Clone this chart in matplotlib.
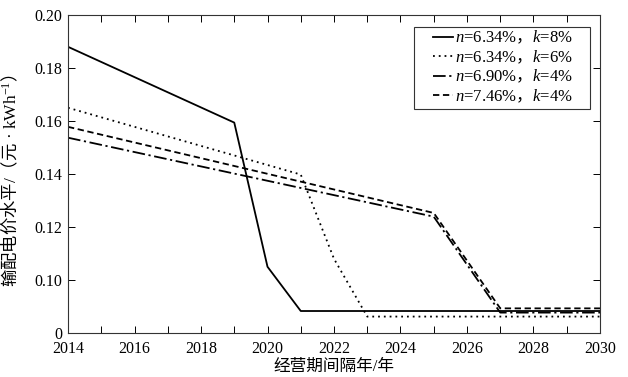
import matplotlib
matplotlib.use("Agg")
import matplotlib.pyplot as plt
from matplotlib.patches import Rectangle
from matplotlib.ticker import MultipleLocator

plt.rcParams.update({
	"font.family": ["Liberation Serif", "Noto Sans CJK SC"],
	"mathtext.fontset": "custom",
	"mathtext.rm": "Liberation Serif",
	"mathtext.it": "Liberation Serif:italic",
	"mathtext.sf": "Noto Sans CJK SC",
	"xtick.direction": "in",
	"ytick.direction": "in",
})

# data
years_a = [2014, 2019, 2020, 2021, 2030]
price_a = [0.1880, 0.1594, 0.1050, 0.0883, 0.0883]

years_b = [2014, 2021, 2022, 2023, 2030]
price_b = [0.1650, 0.1398, 0.1080, 0.0862, 0.0862]

years_c = [2014, 2025, 2027, 2030]
price_c = [0.1537, 0.1239, 0.0877, 0.0877]

years_d = [2014, 2025, 2027, 2030]
price_d = [0.1578, 0.1253, 0.0893, 0.0893]

# full-width comma drawn through the CJK (sf) math font
labels = [
	r"$n$=6.34%$\mathsf{，}$$k$=8%",
	r"$n$=6.34%$\mathsf{，}$$k$=6%",
	r"$n$=6.90%$\mathsf{，}$$k$=4%",
	r"$n$=7.46%$\mathsf{，}$$k$=4%",
]

yticks = [0.08, 0.10, 0.12, 0.14, 0.16, 0.18, 0.20]
ytick_labels = ["0", "0.10", "0.12", "0.14", "0.16", "0.18", "0.20"]

fig = plt.figure(figsize=(6.28, 3.77), dpi=100)
ax = fig.add_axes([0.1083, 0.1167, 0.8471, 0.8435])

lw = 1.3
ax.plot(years_a, price_a, color="k", lw=lw, ls="-", label=labels[0])
ax.plot(years_b, price_b, color="k", lw=lw, ls=(0, (1, 2.2)), label=labels[1])
ax.plot(years_c, price_c, color="k", lw=lw, ls=(0, (7, 2, 1.2, 2)), label=labels[2])
ax.plot(years_d, price_d, color="k", lw=lw, ls=(0, (3.5, 2)), label=labels[3])

ax.set_xlim(2014, 2030)
ax.set_ylim(0.08, 0.20)
ax.xaxis.set_major_locator(MultipleLocator(2))
ax.xaxis.set_minor_locator(MultipleLocator(1))
ax.set_yticks(yticks)
ax.set_yticklabels(ytick_labels)
ax.tick_params(which="both", top=True, right=True, labelsize=11.5, length=5, width=0.7, pad=4)
ax.tick_params(axis="x", which="both", pad=6)
for s in ax.spines.values():
	s.set_linewidth(0.8)
	s.set_color("#333333")

ax.set_xlabel("经营期间隔年/年", fontsize=12)
ax.xaxis.set_label_coords(0.5, -0.08)
ax.set_ylabel(r"$\mathsf{输配电价水平}$/$\mathsf{（元}$ · kWh$^{\mathrm{-1}}$$\mathsf{）}$",
	fontsize=12.5)
ax.yaxis.set_label_coords(-0.089, 0.48)

leg = ax.legend(loc="upper right", bbox_to_anchor=(0.949, 0.955), fontsize=12,
	handlelength=1.2, handletextpad=0.1, labelspacing=0.12, borderpad=0,
	borderaxespad=0, frameon=False)
ax.add_patch(Rectangle((0.650, 0.704), 0.331, 0.258, transform=ax.transAxes,
	fill=False, edgecolor="#333333", lw=0.8, zorder=5))

plt.savefig("out.png", dpi=100)
